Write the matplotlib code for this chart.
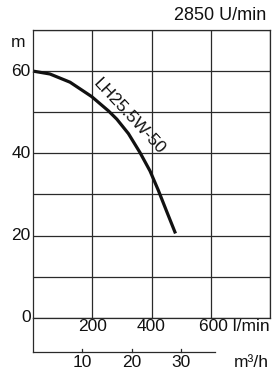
import matplotlib
matplotlib.use("Agg")
import matplotlib.pyplot as plt

plt.rcParams['font.family'] = ['Liberation Sans', 'DejaVu Sans']

# Data
flow_lpm = [0, 57, 125, 198, 255, 283, 322, 361, 395, 423, 451, 481]
head_m = [60.0, 59.3, 57.3, 53.8, 50.3, 48.3, 44.8, 40.2, 35.7, 31.0, 25.9, 20.5]
y_ticks = [0, 20, 40, 60]
x_ticks = [200, 400, 600]
m3h_ticks = [10, 20, 30]
curve_label = "LH25.5W-50"
speed_label = "2850 U/min"

W, H = 272, 372
fig = plt.figure(figsize=(W / 100, H / 100), dpi=100)
ax = fig.add_axes([33 / W, (H - 317.7) / H, 237 / W, 287.7 / H])
ax.set_xlim(0, 800)
ax.set_ylim(0, 70)

gc = '#2a2a2a'
lw = 0.9
for s in ax.spines.values():
    s.set_color(gc)
    s.set_linewidth(lw)
ax.set_xticks([200, 400, 600, 800])
ax.set_yticks(range(0, 71, 10))
ax.grid(True, color=gc, linewidth=lw)
ax.tick_params(length=0, labelbottom=False, labelleft=False)

fs = 12.5
tc = '#111'
for v in y_ticks:
    ax.text(-8, v, str(v), ha='right', va='center', fontsize=fs, color=tc)
ax.text(-50, 67, 'm', ha='center', va='center', fontsize=fs, color=tc)
for v in x_ticks[:-1]:
    ax.text(v, -2.1, str(v), ha='center', va='center', fontsize=fs, color=tc)
ax.text(800, -2.1, f"{x_ticks[-1]} l/min", ha='right', va='center', fontsize=fs, color=tc)

# lower m3/h scale
ybot = -8.3
ax.plot([0, 0], [0, ybot], color=gc, lw=lw, clip_on=False)
ax.plot([0, 614], [ybot, ybot], color=gc, lw=lw, clip_on=False)
for v in m3h_ticks:
    q = v * 1000 / 60
    ax.plot([q, q], [ybot, ybot + 0.8], color=gc, lw=lw, clip_on=False)
    ax.text(q, ybot - 2.6, str(v), ha='center', va='center', fontsize=fs, color=tc)
ax.text(795, ybot - 2.6, 'm\u00b3/h', ha='right', va='center', fontsize=fs, color=tc)

ax.text(1.0 - 4 / 237, 1.0 + 14 / 287.7, speed_label, transform=ax.transAxes, ha='right',
        va='center', fontsize=13, color=tc)

ax.plot(flow_lpm, head_m, color='#111', lw=2.3, solid_capstyle='butt',
        solid_joinstyle='round', clip_on=False)
ax.text(325, 49.0, curve_label, rotation=-47, rotation_mode='anchor', ha='center',
        va='center', fontsize=12.5, color=tc)

fig.savefig('out.png', dpi=100)
